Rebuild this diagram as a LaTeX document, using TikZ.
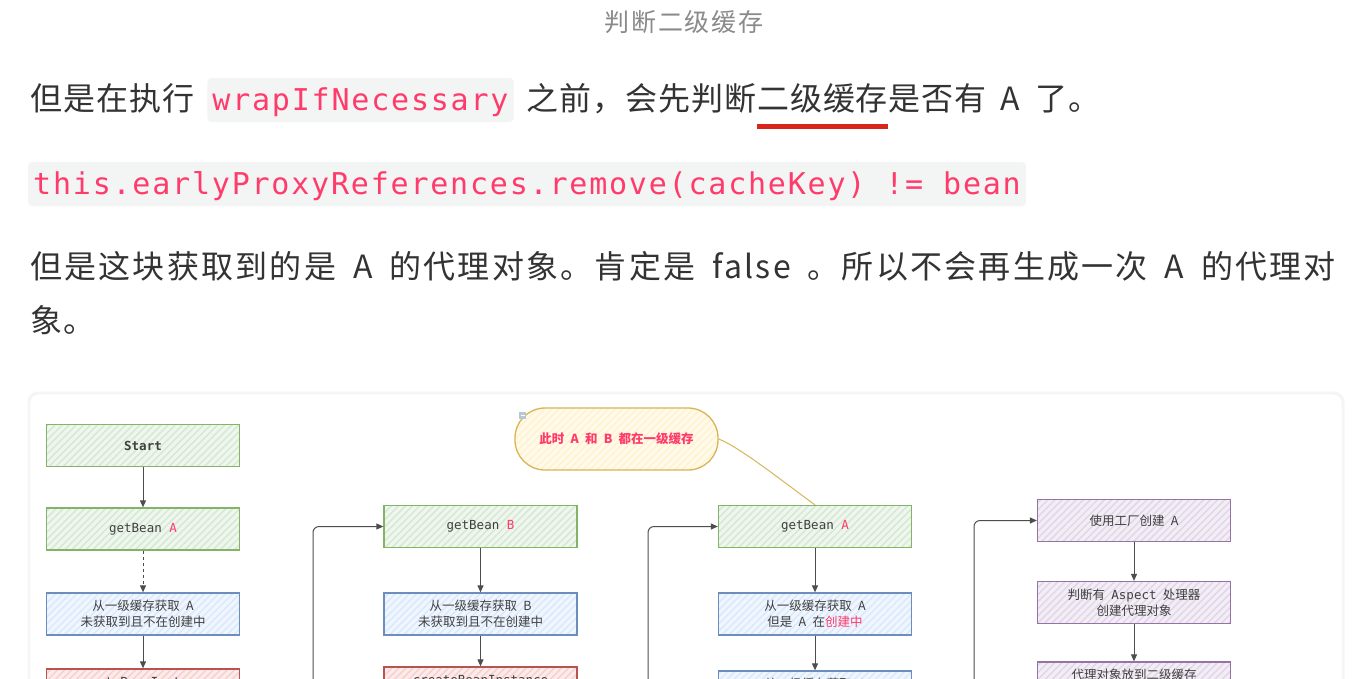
\documentclass[tikz,border=0pt]{standalone}
\usepackage{fontspec}
\setmainfont{Noto Sans CJK SC}
\newfontfamily\codefont{DejaVu Sans Mono}
\newfontfamily\bodyfont{Noto Sans CJK SC}[LetterSpace=3, WordSpace=1.8]
\newfontfamily\justfont{Noto Sans CJK SC}[LetterSpace=7, WordSpace=1.8]
\usetikzlibrary{arrows.meta, positioning, patterns.meta}
\definecolor{bodytext}{HTML}{333333}
\definecolor{captext}{HTML}{8A8A8A}
\definecolor{codered}{HTML}{FF3B6B}
\definecolor{codebg}{HTML}{F3F4F4}
\definecolor{markred}{HTML}{D9261C}
\definecolor{cardedge}{HTML}{EBEBEB}
\definecolor{cardshade}{HTML}{F6F6F6}
\definecolor{grnedge}{HTML}{82B366}
\definecolor{grnfill}{HTML}{D5E8D4}
\definecolor{bluedge}{HTML}{6C8EBF}
\definecolor{blufill}{HTML}{DAE8FC}
\definecolor{rededge}{HTML}{B85450}
\definecolor{redfill}{HTML}{F8CECC}
\definecolor{puredge}{HTML}{9673A6}
\definecolor{purfill}{HTML}{E1D5E7}
\definecolor{yeledge}{HTML}{D6B656}
\definecolor{yelfill}{HTML}{FFF2CC}
\definecolor{arrowgray}{HTML}{4D4D4D}
\definecolor{dgtext}{HTML}{404040}
\definecolor{iconfill}{HTML}{B8C6D6}

\begin{document}
\begin{tikzpicture}[x=1pt, y=-1pt,
  body/.style={anchor=west, inner sep=0pt, text=bodytext, text height=26pt, text depth=6pt,
               font=\fontsize{32}{38}\bodyfont},
  justified/.style={body, font=\fontsize{32}{38}\justfont},
  code/.style={anchor=west, inner xsep=5pt, inner ysep=0pt, fill=codebg, rounded corners=4pt,
               minimum height=44pt, text height=24pt, text depth=3pt, text=codered,
               font=\fontsize{30}{36}\codefont\addfontfeature{LetterSpace=6}},
  caption/.style={inner sep=0pt, text=captext,
               font=\fontsize{25}{30}\selectfont\addfontfeature{LetterSpace=7}},
  box/.style 2 args={draw=#1, line width=1.3pt, minimum width=193pt, minimum height=42pt,
               inner sep=2pt, align=center, text=dgtext, font=\fontsize{12.5}{16}\selectfont,
               preaction={fill=#2!40},
               preaction={pattern={Lines[angle=45, distance=5pt, line width=1.4pt]}, pattern color=#2}},
  cutbox/.style 2 args={box={#1}{#2}, minimum height=26pt},
  note/.style={draw=yeledge, line width=1.3pt, rounded corners=30pt, minimum width=203pt,
               minimum height=62pt, text=codered, font=\bfseries\fontsize{12.5}{16}\selectfont,
               preaction={fill=yelfill!40},
               preaction={pattern={Lines[angle=45, distance=5pt, line width=1.4pt]}, pattern color=yelfill}},
  arr/.style={draw=arrowgray, line width=1pt, -{Triangle[length=7pt, width=6pt]}},
  loop/.style={arr, rounded corners=6pt},
]
\useasboundingbox (0,0) rectangle (1364,678);
\clip (0,0) rectangle (1364,678);
\fill[white] (0,0) rectangle (1364,678);

% ---- article text above the figure
\node[caption] (cap) at (684,22) {判断二级缓存};

\node[body] (t1a) at (30,100) {但是在执行};
\node[code, right=13pt of t1a] (code1) {wrapIfNecessary};
\node[body, right=13pt of code1] (t1b) {之前，会先判断};
\node[body, right=0pt of t1b] (t1c) {二级缓存};
\node[body, right=0pt of t1c] (t1d) {是否有 A 了。};
\draw[markred, line width=5pt] ([yshift=-10.5pt]t1c.south west) -- ([yshift=-10.5pt]t1c.south east);

\node[code] (code2) at (28,184) {this.earlyProxyReferences.remove(cacheKey) != bean};

\node[justified] (t3) at (30,268) {但是这块获取到的是 A 的代理对象。肯定是 false 。所以不会再生成一次 A 的代理对};
\node[body] (t4) at (30,322) {象。};

% ---- figure card
\draw[cardshade, line width=3pt, rounded corners=9pt] (29,393) rectangle (1343,720);
\draw[cardedge, fill=white, rounded corners=8pt] (30,394) rectangle (1342,720);

% ---- column 1: getBean A
\node[box={grnedge}{grnfill}] (start) at (143,445.5) {{\codefont\bfseries Start}};
\node[box={grnedge}{grnfill}] (getA1) at (143,529) {{\codefont getBean \textcolor{codered}{A}}};
\node[box={bluedge}{blufill}] (blu1) at (143,614) {从一级缓存获取\enspace A\\未获取到且不在创建中};
\node[cutbox={rededge}{redfill}] (red1) at (143,682) {{\codefont createBeanInstance}};
\draw[arr] (start) -- (getA1);
\draw[arr, dashed] (getA1) -- (blu1);
\draw[arr] (blu1) -- (red1);

% ---- column 2: getBean B
\node[box={grnedge}{grnfill}] (getB) at (480.5,526.5) {{\codefont getBean \textcolor{codered}{B}}};
\node[box={bluedge}{blufill}] (blu2) at (480.5,614) {从一级缓存获取\enspace B\\未获取到且不在创建中};
\node[cutbox={rededge}{redfill}] (red2) at (480.5,680) {{\codefont createBeanInstance}};
\coordinate (loopB) at (313,720);
\draw[arr] (getB) -- (blu2);
\draw[arr] (blu2) -- (red2);
\draw[loop] (loopB) |- (getB.west);

% ---- column 3: getBean A again, with note
\node[note] (both) at (616.5,439) {此时\enspace A\enspace 和\enspace B\enspace 都在一级缓存};
\fill[iconfill] (519,412) rectangle (526,419);
\draw[white, line width=0.8pt] (520.5,415.5) -- (524.5,415.5);
\node[box={grnedge}{grnfill}] (getA2) at (815,526.5) {{\codefont getBean \textcolor{codered}{A}}};
\node[box={bluedge}{blufill}] (blu3) at (815,614) {从一级缓存获取\enspace A\\但是\enspace A\enspace 在\textcolor{codered}{创建中}};
\node[cutbox={bluedge}{blufill}] (blu4) at (815,684) {从二级缓存获取\enspace A};
\coordinate (loopA) at (648,720);
\draw[yeledge, line width=1pt] (both.east) .. controls (740,447) and (790,487) .. (getA2.north);
\draw[arr] (getA2) -- (blu3);
\draw[arr] (blu3) -- (blu4);
\draw[loop] (loopA) |- (getA2.west);

% ---- column 4: factory creates proxy of A
\node[box={puredge}{purfill}] (pur1) at (1134,520.5) {使用工厂创建\enspace A};
\node[box={puredge}{purfill}] (pur2) at (1134,602.5) {判断有\enspace{\codefont Aspect}\enspace 处理器\\创建代理对象};
\node[cutbox={puredge}{purfill}] (pur3) at (1134,675) {代理对象放到二级缓存};
\coordinate (loopF) at (974,720);
\draw[arr] (pur1) -- (pur2);
\draw[arr] (pur2) -- (pur3);
\draw[loop] (loopF) |- (pur1.west);
\end{tikzpicture}
\end{document}
